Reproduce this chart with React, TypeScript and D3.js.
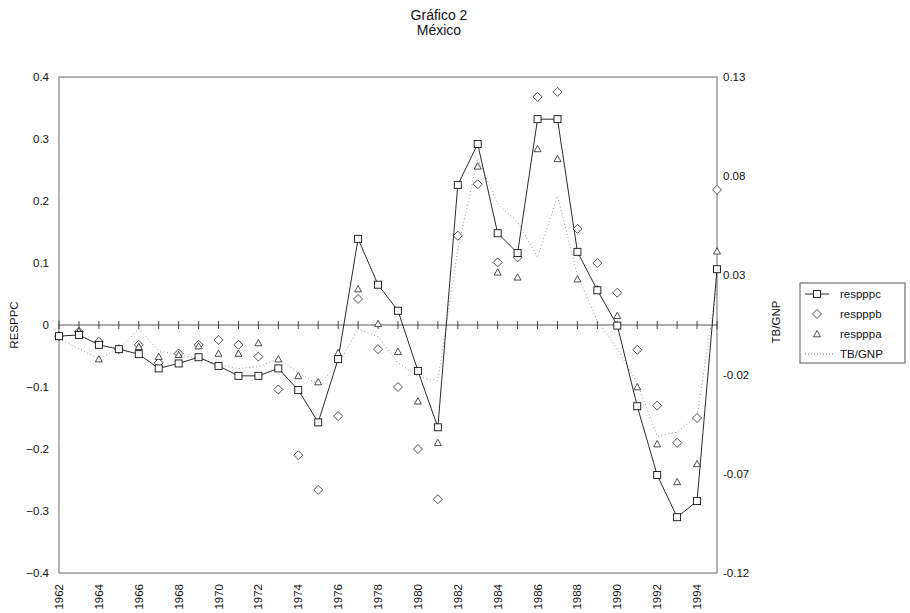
import React from 'react';
import * as d3 from 'd3';

const years = [1962, 1963, 1964, 1965, 1966, 1967, 1968, 1969, 1970, 1971, 1972, 1973, 1974, 1975, 1976, 1977, 1978, 1979, 1980, 1981, 1982, 1983, 1984, 1985, 1986, 1987, 1988, 1989, 1990, 1991, 1992, 1993, 1994, 1995];

const respppc = [-0.018, -0.016, -0.032, -0.039, -0.047, -0.070, -0.062, -0.052, -0.066, -0.082, -0.082, -0.070, -0.105, -0.157, -0.055, 0.139, 0.065, 0.023, -0.074, -0.165, 0.226, 0.292, 0.148, 0.116, 0.332, 0.332, 0.118, 0.056, -0.001, -0.131, -0.242, -0.310, -0.284, 0.090];
const respppb = [-0.018, -0.011, -0.027, -0.039, -0.032, -0.061, -0.046, -0.032, -0.024, -0.032, -0.051, -0.104, -0.210, -0.266, -0.147, 0.042, -0.039, -0.100, -0.200, -0.281, 0.144, 0.227, 0.101, 0.109, 0.368, 0.376, 0.155, 0.100, 0.052, -0.040, -0.130, -0.190, -0.150, 0.218];
const respppa = [-0.018, -0.010, -0.055, -0.039, -0.035, -0.051, -0.048, -0.034, -0.046, -0.046, -0.029, -0.055, -0.082, -0.092, -0.045, 0.058, 0.002, -0.043, -0.123, -0.190, 0.226, 0.256, 0.085, 0.077, 0.284, 0.268, 0.074, 0.058, 0.015, -0.100, -0.192, -0.253, -0.224, 0.119];
const tbgnp = [-0.002, -0.007, -0.012, -0.007, 0.003, -0.008, -0.010, -0.012, -0.015, -0.017, -0.016, -0.012, -0.019, -0.025, -0.015, 0.003, -0.001, -0.014, -0.021, -0.023, 0.043, 0.089, 0.066, 0.057, 0.039, 0.070, 0.030, 0.007, -0.007, -0.024, -0.051, -0.049, -0.041, 0.025];

const leftTicks = [0.4, 0.3, 0.2, 0.1, 0, -0.1, -0.2, -0.3, -0.4];
const rightTicks = [0.13, 0.08, 0.03, -0.02, -0.07, -0.12];
const yearLabels = [1962, 1964, 1966, 1968, 1970, 1972, 1974, 1976, 1978, 1980, 1982, 1984, 1986, 1988, 1990, 1992, 1994];
const legendNames = ['respppc', 'respppb', 'respppa', 'TB/GNP'];

const W = 910, H = 613;
const L = 59, R = 717, T = 77, B = 573;
const font = '"Liberation Sans", Arial, sans-serif';

const Square = ({ x, y }: { x: number; y: number }) => (
  <rect x={x - 3.5} y={y - 3.5} width={7} height={7} fill="white" stroke="#111" strokeWidth={0.9} />
);
const Diamond = ({ x, y }: { x: number; y: number }) => (
  <path d={`M${x},${y - 4.5}L${x + 4.5},${y}L${x},${y + 4.5}L${x - 4.5},${y}Z`} fill="white" stroke="#222" strokeWidth={0.8} />
);
const Tri = ({ x, y }: { x: number; y: number }) => (
  <path d={`M${x},${y - 3.5}L${x + 3.5},${y + 2.8}L${x - 3.5},${y + 2.8}Z`} fill="white" stroke="#222" strokeWidth={0.8} />
);

const App = () => {
  const x = d3.scaleLinear().domain([1962, 1995]).range([L, R]);
  const y = d3.scaleLinear().domain([-0.4, 0.4]).range([B, T]);
  const y2 = d3.scaleLinear().domain([-0.12, 0.13]).range([B, T]);

  const line = d3.line<number>().x((d, i) => x(years[i])).y(d => y(d));
  const line2 = d3.line<number>().x((d, i) => x(years[i])).y(d => y2(d));
  const fmt = (v: number) => (v === 0 ? '0' : d3.format('.1f')(v));

  return (
    <svg width={W} height={H} style={{ position: 'absolute', left: 0, top: 0, background: 'white' }} fontFamily={font}>
      <text x={439} y={20} textAnchor="middle" fontSize={14} fill="#111">Gráfico 2</text>
      <text x={439} y={35} textAnchor="middle" fontSize={14} fill="#111">México</text>

      {/* frame */}
      <rect x={L} y={T} width={R - L} height={B - T} fill="none" stroke="#666" strokeWidth={1} />

      {/* zero line with year ticks */}
      <line x1={L} x2={R} y1={y(0)} y2={y(0)} stroke="#555" strokeWidth={1} />
      {years.map(yr => (
        <line key={yr} x1={x(yr)} x2={x(yr)} y1={y(0) - 4} y2={y(0) + 4} stroke="#333" strokeWidth={0.9} />
      ))}

      {leftTicks.map(t => (
        <text key={t} x={49} y={y(t)} dy="0.35em" textAnchor="end" fontSize={11.5} fill="#111">{fmt(t)}</text>
      ))}
      {rightTicks.map(t => (
        <text key={t} x={723} y={y2(t)} dy="0.35em" fontSize={11.5} fill="#111">{t.toFixed(2)}</text>
      ))}
      {yearLabels.map(yr => (
        <text key={yr} transform={`translate(${x(yr)},584) rotate(-90)`} dy="0.35em" textAnchor="end" fontSize={11.5} fill="#111">{yr}</text>
      ))}

      <text transform={`translate(14,${y(0)}) rotate(-90)`} dy="0.35em" textAnchor="middle" fontSize={11.5} fill="#111">RESPPC</text>
      <text transform={`translate(776,322) rotate(-90)`} dy="0.35em" textAnchor="middle" fontSize={11.5} fill="#111">TB/GNP</text>

      {/* series */}
      <path d={line2(tbgnp) || ''} fill="none" stroke="#999" strokeWidth={1} strokeDasharray="1,2.5" />
      <path d={line(respppc) || ''} fill="none" stroke="#111" strokeWidth={0.9} />
      {respppb.map((v, i) => <Diamond key={'b' + i} x={x(years[i])} y={y(v)} />)}
      {respppa.map((v, i) => <Tri key={'a' + i} x={x(years[i])} y={y(v)} />)}
      {respppc.map((v, i) => <Square key={'c' + i} x={x(years[i])} y={y(v)} />)}

      {/* legend */}
      <rect x={800} y={283} width={105} height={80} fill="white" stroke="#555" strokeWidth={1} />
      {legendNames.map((n, i) => {
        const ly = 294 + i * 20;
        return (
          <g key={n}>
            {i === 0 && <line x1={805} x2={829} y1={ly} y2={ly} stroke="#111" strokeWidth={0.9} />}
            {i === 3 && <line x1={805} x2={835} y1={ly} y2={ly} stroke="#666" strokeWidth={1} strokeDasharray="1,2" />}
            {i === 0 && <Square x={817} y={ly} />}
            {i === 1 && <Diamond x={817} y={ly} />}
            {i === 2 && <Tri x={817} y={ly} />}
            <text x={840} y={ly} dy="0.35em" fontSize={11.5} fill="#111">{n}</text>
          </g>
        );
      })}
    </svg>
  );
};

export default App;
